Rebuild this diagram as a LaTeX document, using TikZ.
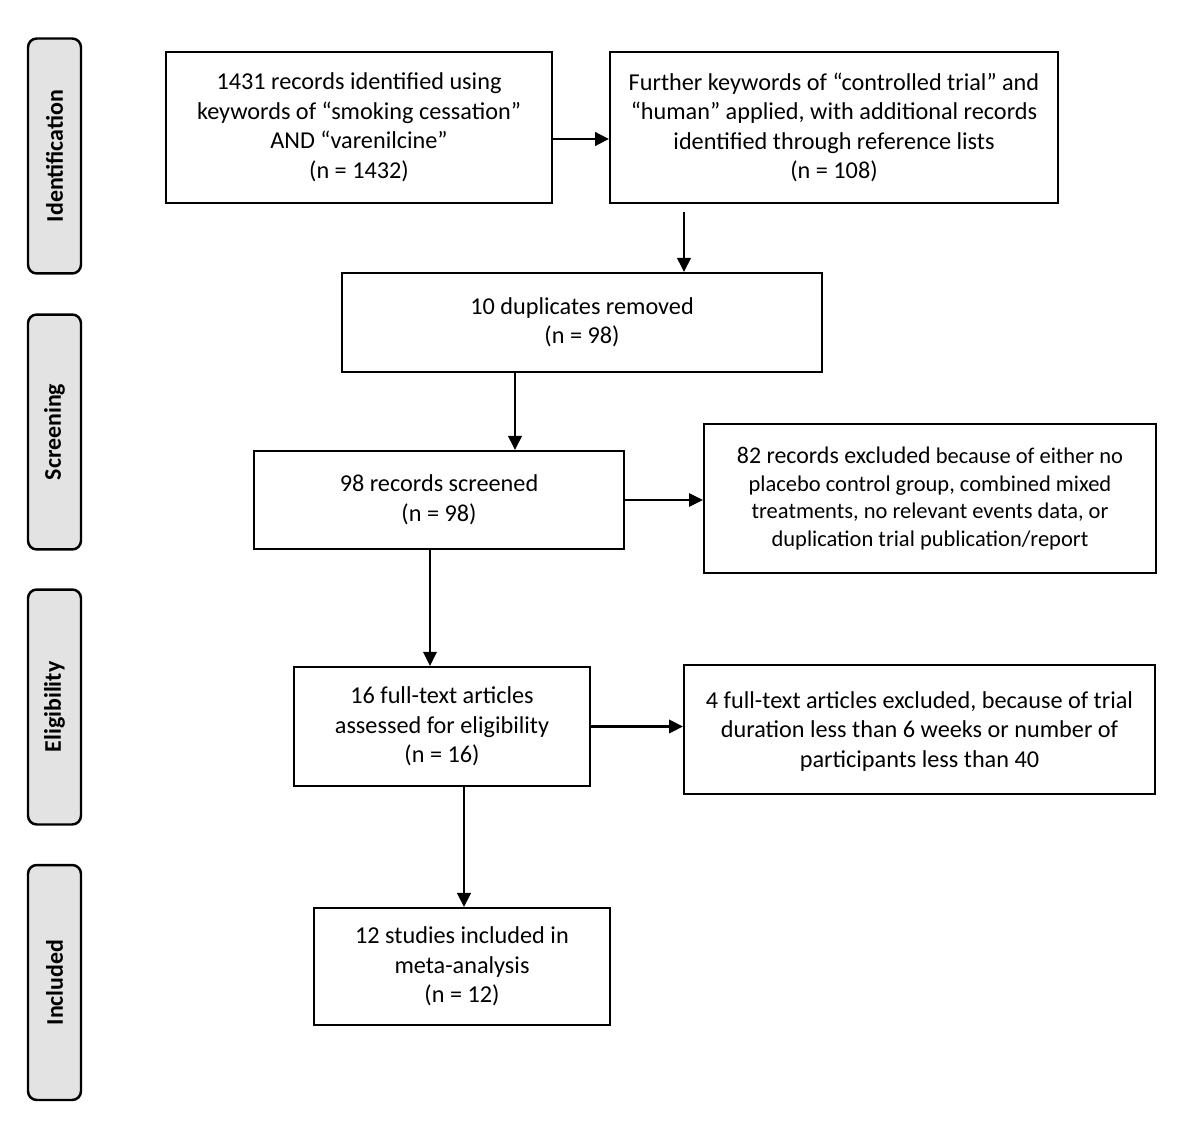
\documentclass[tikz,border=0pt]{standalone}
\usepackage{fontspec}
\setmainfont{Carlito}
\usetikzlibrary{arrows.meta,calc}
\tikzset{
  box/.style={draw=black, line width=1.2pt, align=center, inner sep=0pt,
    font=\fontsize{13.8}{16.8}\selectfont},
  phase/.style={draw=black, line width=1.4pt, rounded corners=5pt, fill=black!11,
    minimum width=1.06cm, minimum height=4.7cm, inner sep=0pt},
  phasetext/.style={rotate=90, font=\bfseries\fontsize{13.6}{15}\selectfont},
  arr/.style={line width=1.3pt, -{Triangle[length=0.28cm,width=0.27cm]}},
  thickarr/.style={arr, line width=1.6pt},
  thinarr/.style={arr, line width=1.0pt}
}
\begin{document}
\begin{tikzpicture}[x=0.02cm, y=-0.02cm]
\useasboundingbox (0,0) rectangle (1200,1145);

% phase labels
\node[phase] (p1) at (54.5,156) {};
\node[phasetext] (t1) at (p1.center) {Identification};
\node[phase] (p2) at (54.5,432) {};
\node[phasetext] (t2) at (p2.center) {Screening};
\node[phase] (p3) at (54.5,707) {};
\node[phasetext] (t3) at (p3.center) {Eligibility};
\node[phase] (p4) at (54.5,982.5) {};
\node[phasetext] (t4) at (p4.center) {Included};

% boxes
\node[box, minimum width=7.72cm, minimum height=3.02cm] (A) at (359,127.5)
  {1431 records identified using\\ keywords of “smoking cessation”\\ AND “varenilcine”\\ (n = 1432)};
\node[box, minimum width=8.96cm, minimum height=3.02cm] (B) at (834,127.5)
  {Further keywords of “controlled trial” and\\ “human” applied, with additional records\\ identified through reference lists\\ (n = 108)};
\node[box, minimum width=9.6cm, minimum height=1.98cm] (C) at (582,322.5)
  {10 duplicates removed\\ (n = 98)};
\node[box, minimum width=7.4cm, minimum height=1.96cm] (D) at (439,500)
  {98 records screened\\ (n = 98)};
\node[box, minimum width=9.04cm, minimum height=2.98cm,
  font=\fontsize{12.8}{15.6}\selectfont] (E) at (930,498.5)
  {{\fontsize{13.6}{15.6}\selectfont 82 records excluded} because of either no\\ placebo control group, combined mixed\\ treatments, no relevant events data, or\\ duplication trial publication/report};
\node[box, minimum width=5.92cm, minimum height=2.38cm] (F) at (442,726.5)
  {16 full-text articles\\ assessed for eligibility\\ (n = 16)};
\node[box, minimum width=9.42cm, minimum height=2.58cm, text depth=0pt] (G) at (919.5,729.5)
  {4 full-text articles excluded, because of trial\\ duration less than 6 weeks or number of\\ participants less than 40};
\node[box, minimum width=5.92cm, minimum height=2.34cm] (H) at (462,966.5)
  {12 studies included in\\ meta-analysis\\ (n = 12)};

% helper coordinates
\coordinate (ab) at (552,139);
\coordinate (bc) at (684,212);
\coordinate (x515) at (515,0);
\coordinate (x430) at (430,0);
\coordinate (x464) at (464,0);

% connectors
\draw[thickarr] (A.east |- ab) -- (B.west |- ab);
\draw[arr] (bc) -- (bc |- C.north);
\draw[arr] (C.south -| x515) -- (D.north -| x515);
\draw[thinarr] (D.east) -- (D.east -| E.west);
\draw[thinarr] (D.south -| x430) -- (F.north -| x430);
\draw[arr] (F.east) -- (F.east -| G.west);
\draw[thickarr] (F.south -| x464) -- (H.north -| x464);
\end{tikzpicture}
\end{document}
